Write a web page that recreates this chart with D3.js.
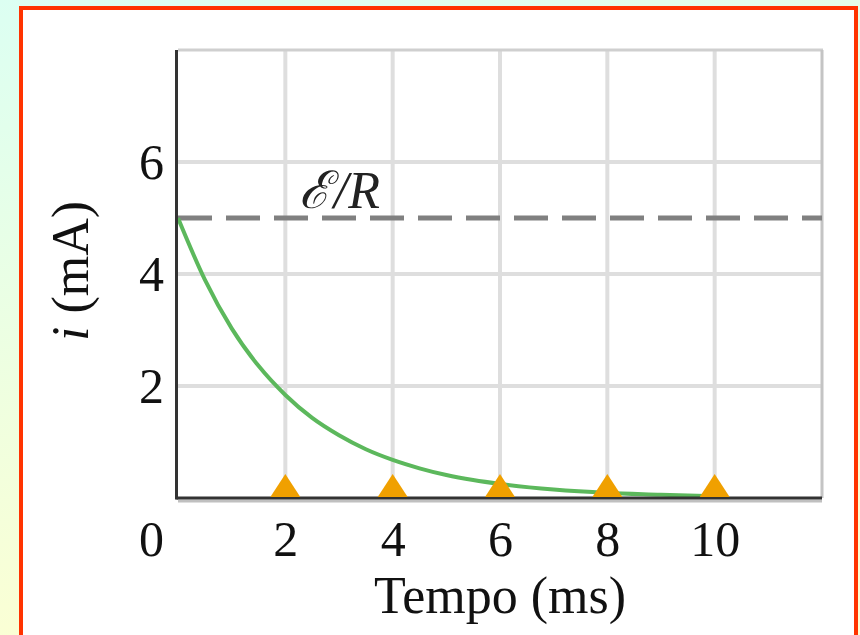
<!DOCTYPE html>
<html lang="pt">
  <head>
    <meta charset="utf-8">
    <title>i (mA) x Tempo (ms)</title>
    <script type="text/javascript" src="https://cdn.jsdelivr.net/npm/d3@7"></script>
<style>
html, body { margin: 0; padding: 0; }
svg { display: block; }
.tick text { font-family: "Liberation Serif", "Times New Roman", serif; fill: #111; }
</style>
  </head>
  <body>
    <script type="text/javascript">
      // values
      var timeMs    = [0, 0.5, 1, 1.5, 2, 2.5, 3, 3.5, 4, 4.5, 5, 5.5, 6, 7, 8, 9, 10];
      var currentMA = [5.0, 3.9, 3.03, 2.36, 1.84, 1.43, 1.12, 0.87, 0.68, 0.53, 0.41, 0.32, 0.25, 0.15, 0.09, 0.06, 0.03];
      var markerTimes = [2, 4, 6, 8, 10];
      var xTicks = [2, 4, 6, 8, 10];
      var yTicks = [2, 4, 6];
      var limitValue = 5;   // E/R

      var width = 860;
      var height = 635;
      var margin = {left: 178, right: 38, top: 50, bottom: 137};
      var serif = "'Liberation Serif', 'Times New Roman', serif";

      var svg = d3.select("body").append("svg")
        .attr("width", width)
        .attr("height", height);

      var defs = svg.append("defs");
      var grad = defs.append("linearGradient")
        .attr("id", "bg")
        .attr("x1", "0").attr("y1", "0")
        .attr("x2", "0.3").attr("y2", "1");
      grad.append("stop").attr("offset", "0").attr("stop-color", "#dcfff2");
      grad.append("stop").attr("offset", "1").attr("stop-color", "#fdffd2");

      svg.append("rect")
        .attr("width", width).attr("height", height)
        .attr("fill", "url(#bg)");

      // white panel with red frame
      svg.append("rect")
        .attr("x", 21).attr("y", 8)
        .attr("width", 835).attr("height", 700)
        .attr("fill", "#fff")
        .attr("stroke", "#ff3300")
        .attr("stroke-width", 4);

      var x = d3.scaleLinear().domain([0, 12]).range([margin.left, width - margin.right]);
      var y = d3.scaleLinear().domain([0, 8]).range([height - margin.bottom, margin.top]);

      // grid
      var grid = svg.append("g");
      grid.selectAll("line.v")
        .data(xTicks)
        .enter()
        .append("line")
        .attr("x1", function(d) { return x(d); })
        .attr("x2", function(d) { return x(d); })
        .attr("y1", y(0)).attr("y2", y(8))
        .attr("stroke", "#dedede")
        .attr("stroke-width", 4);
      grid.selectAll("line.h")
        .data(yTicks)
        .enter()
        .append("line")
        .attr("x1", x(0)).attr("x2", x(12))
        .attr("y1", function(d) { return y(d); })
        .attr("y2", function(d) { return y(d); })
        .attr("stroke", "#dedede")
        .attr("stroke-width", 4);

      // top and right frame of the plot
      svg.append("line")
        .attr("x1", x(0)).attr("x2", x(12) + 1)
        .attr("y1", y(8)).attr("y2", y(8))
        .attr("stroke", "#cfcfcf").attr("stroke-width", 3);
      svg.append("line")
        .attr("x1", x(12)).attr("x2", x(12))
        .attr("y1", y(8)).attr("y2", y(0))
        .attr("stroke", "#c4c4c4").attr("stroke-width", 3);

      // E/R dashed line
      svg.append("line")
        .attr("x1", x(0)).attr("x2", x(12))
        .attr("y1", y(limitValue)).attr("y2", y(limitValue))
        .attr("stroke", "#808080")
        .attr("stroke-width", 5)
        .attr("stroke-dasharray", "34,14");

      var er = svg.append("text")
        .attr("x", x(2.25))
        .attr("y", y(limitValue) - 10)
        .attr("font-family", serif)
        .attr("font-style", "italic")
        .attr("font-size", "52px")
        .attr("fill", "#222");
      er.append("tspan").text("ℰ");
      er.append("tspan").attr("dx", 4).text("/R");

      // curve
      var pts = timeMs.map(function(t, i) { return [t, currentMA[i]]; });
      svg.append("path")
        .datum(pts)
        .attr("fill", "none")
        .attr("stroke", "#5cb85c")
        .attr("stroke-width", 4)
        .attr("d", d3.line()
          .x(function(d) { return x(d[0]); })
          .y(function(d) { return y(d[1]); })
          .curve(d3.curveMonotoneX));

      // axes
      var xAxis = svg.append("g")
        .attr("transform", "translate(0," + y(0) + ")")
        .call(d3.axisBottom(x).tickValues(xTicks).tickSize(0).tickPadding(22));
      xAxis.select(".domain").remove();
      xAxis.selectAll("text").attr("font-size", "50px").attr("dy", "0.71em");

      var yAxis = svg.append("g")
        .attr("transform", "translate(" + x(0) + ",0)")
        .call(d3.axisLeft(y).tickValues(yTicks).tickSize(0).tickPadding(14));
      yAxis.select(".domain").remove();
      yAxis.selectAll("text").attr("font-size", "50px");

      // origin label
      svg.append("text")
        .attr("x", x(0) - 14)
        .attr("y", y(0) + 22)
        .attr("dy", "0.71em")
        .attr("text-anchor", "end")
        .attr("font-family", serif)
        .attr("font-size", "50px")
        .attr("fill", "#111")
        .text("0");

      // axis lines
      svg.append("line")
        .attr("x1", x(0)).attr("x2", x(12))
        .attr("y1", y(0) + 3).attr("y2", y(0) + 3)
        .attr("stroke", "#c0c0c0").attr("stroke-width", 3);
      svg.append("line")
        .attr("x1", x(0) - 1.5).attr("x2", x(12))
        .attr("y1", y(0)).attr("y2", y(0))
        .attr("stroke", "#333").attr("stroke-width", 3);
      svg.append("line")
        .attr("x1", x(0) - 1.5).attr("x2", x(0) - 1.5)
        .attr("y1", y(8)).attr("y2", y(0) + 1.5)
        .attr("stroke", "#333").attr("stroke-width", 3);

      // markers
      svg.selectAll("path.marker")
        .data(markerTimes)
        .enter()
        .append("path")
        .attr("class", "marker")
        .attr("fill", "#f0a000")
        .attr("d", function(d) {
          var cx = x(d), b = y(0) - 1;
          return "M" + (cx - 15) + "," + b + "L" + cx + "," + (b - 23) + "L" + (cx + 15) + "," + b + "Z";
        });

      // axis titles
      svg.append("text")
        .attr("x", (x(0) + x(12)) / 2)
        .attr("y", 613)
        .attr("text-anchor", "middle")
        .attr("font-family", serif)
        .attr("font-size", "52px")
        .attr("fill", "#111")
        .text("Tempo (ms)");

      var yTitle = svg.append("text")
        .attr("transform", "translate(88," + 271 + ") rotate(-90)")
        .attr("text-anchor", "middle")
        .attr("font-family", serif)
        .attr("font-size", "52px")
        .attr("fill", "#111");
      yTitle.append("tspan").attr("font-style", "italic").text("i");
      yTitle.append("tspan").text(" (mA)");
    </script>
  </body>
</html>
